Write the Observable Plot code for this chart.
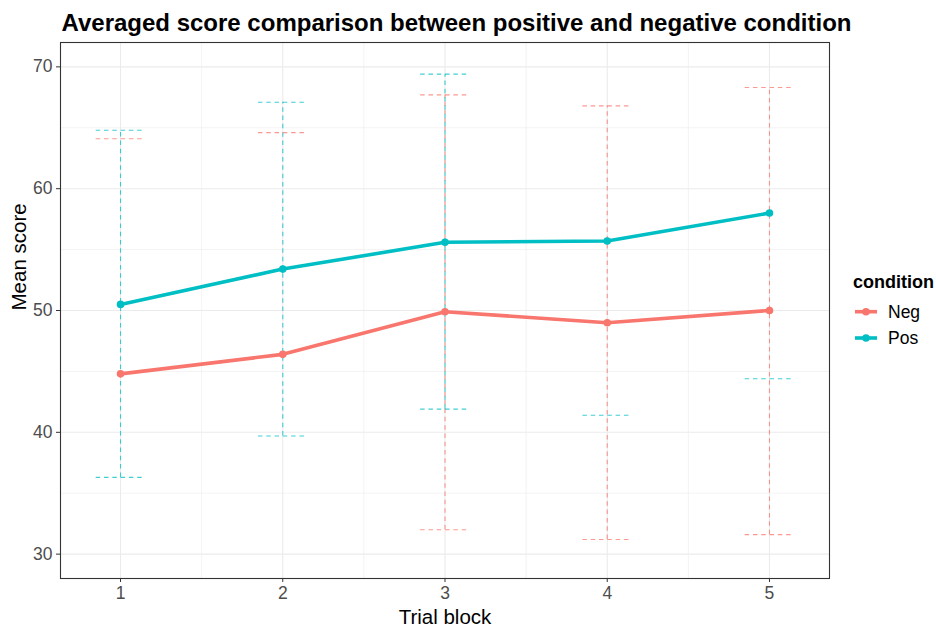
<!DOCTYPE html>
<html>
<head>
<meta charset="utf-8">
<script src="https://cdn.jsdelivr.net/npm/d3@7"></script>
<script src="https://cdn.jsdelivr.net/npm/@observablehq/plot@0.6"></script>
<style>
  html, body { margin: 0; padding: 0; background: #fff; }
  #wrap { position: relative; width: 936px; height: 627px; font-family: "Liberation Sans", Arial, sans-serif; }
  #legend { position: absolute; left: 836px; top: 262px; }
</style>
</head>
<body>
<div id="wrap"><div id="chart"></div><div id="legend"></div></div>
<script>
const titleText = "Averaged score comparison between positive and negative condition";
const xLabel = "Trial block";
const yLabel = "Mean score";
const legendTitle = "condition";

const conditions = ["Neg", "Pos"];
const colors = ["#F8766D", "#00BFC4"];
const blocks = [1, 2, 3, 4, 5];
const yTicks = [30, 40, 50, 60, 70];
const yMinor = [35, 45, 55, 65];
const xMinor = [1.5, 2.5, 3.5, 4.5];

const negMean  = [44.8, 46.4, 49.9, 49.0, 50.0];
const posMean  = [50.5, 53.4, 55.6, 55.7, 58.0];
const negUpper = [64.1, 64.6, 67.7, 66.8, 68.3];
const negLower = [null, null, 32.0, 31.2, 31.6];
const posUpper = [64.8, 67.1, 69.4, null, null];
const posLower = [36.3, 39.7, 41.9, 41.4, 44.4];

const capHalf = 0.15;

const data = [
  ...blocks.map((b, i) => ({block: b, condition: "Neg", mean: negMean[i], upper: negUpper[i], lower: negLower[i]})),
  ...blocks.map((b, i) => ({block: b, condition: "Pos", mean: posMean[i], upper: posUpper[i], lower: posLower[i]}))
];

const dash = "4.5,3.8";
const ebStyle = {stroke: "condition", strokeWidth: 1.1, strokeOpacity: 0.75, strokeDasharray: dash};

const chart = Plot.plot({
  width: 936,
  height: 627,
  marginLeft: 60,
  marginRight: 107,
  marginTop: 42,
  marginBottom: 49,
  style: {fontFamily: '"Liberation Sans", Arial, sans-serif', background: "#fff", overflow: "visible"},
  x: {domain: [0.63, 5.37]},
  y: {domain: [28, 72]},
  color: {domain: conditions, range: colors},
  marks: [
    Plot.gridY(yMinor, {stroke: "#ebebeb", strokeOpacity: 1, strokeWidth: 0.6}),
    Plot.gridX(xMinor, {stroke: "#ebebeb", strokeOpacity: 1, strokeWidth: 0.6}),
    Plot.gridY(yTicks, {stroke: "#ebebeb", strokeOpacity: 1, strokeWidth: 1.1}),
    Plot.gridX(blocks, {stroke: "#ebebeb", strokeOpacity: 1, strokeWidth: 1.1}),
    // error bars: verticals where both ends exist
    Plot.ruleX(data.filter(d => d.upper != null && d.lower != null), {x: "block", y1: "lower", y2: "upper", ...ebStyle}),
    // caps
    Plot.ruleY(data.filter(d => d.upper != null), {y: "upper", x1: d => d.block - capHalf, x2: d => d.block + capHalf, ...ebStyle}),
    Plot.ruleY(data.filter(d => d.lower != null), {y: "lower", x1: d => d.block - capHalf, x2: d => d.block + capHalf, ...ebStyle}),
    Plot.line(data, {x: "block", y: "mean", stroke: "condition", z: "condition", strokeWidth: 3.6}),
    Plot.dot(data, {x: "block", y: "mean", fill: "condition", r: 3.8}),
    Plot.frame({stroke: "#333", strokeWidth: 1.1}),
    Plot.axisX(blocks, {tickSize: 4, tickPadding: 4, fontSize: 17.5, stroke: "#333", fill: "#4d4d4d", label: null, tickFormat: d => String(d)}),
    Plot.axisY(yTicks, {tickSize: 4, tickPadding: 4, fontSize: 17.5, stroke: "#333", fill: "#4d4d4d", label: null, tickFormat: d => String(d)}),
    Plot.text([xLabel], {text: d => d, frameAnchor: "bottom", dy: 45, lineAnchor: "bottom", fontSize: 20.5, fill: "#000"}),
    Plot.text([yLabel], {text: d => d, frameAnchor: "left", dx: -35, rotate: -90, lineAnchor: "bottom", fontSize: 20.5, fill: "#000"}),
    Plot.text([titleText], {text: d => d, frameAnchor: "top-left", dx: 1, dy: -12, lineAnchor: "bottom", textAnchor: "start", fontSize: 24, fontWeight: "bold", fill: "#000"})
  ]
});
document.getElementById("chart").appendChild(chart);

// legend (built from the categories)
const ns = "http://www.w3.org/2000/svg";
const lg = document.createElementNS(ns, "svg");
lg.setAttribute("width", 100);
lg.setAttribute("height", 100);
lg.style.fontFamily = '"Liberation Sans", Arial, sans-serif';
const t = document.createElementNS(ns, "text");
t.setAttribute("x", 17); t.setAttribute("y", 26);
t.setAttribute("font-size", 18); t.setAttribute("font-weight", "bold");
t.textContent = legendTitle;
lg.appendChild(t);
conditions.forEach((c, i) => {
  const cy = 49.7 + i * 26.3;
  const l = document.createElementNS(ns, "line");
  l.setAttribute("x1", 19); l.setAttribute("x2", 41);
  l.setAttribute("y1", cy); l.setAttribute("y2", cy);
  l.setAttribute("stroke", colors[i]); l.setAttribute("stroke-width", 3.6);
  lg.appendChild(l);
  const p = document.createElementNS(ns, "circle");
  p.setAttribute("cx", 30); p.setAttribute("cy", cy); p.setAttribute("r", 3.8);
  p.setAttribute("fill", colors[i]);
  lg.appendChild(p);
  const tx = document.createElementNS(ns, "text");
  tx.setAttribute("x", 52); tx.setAttribute("y", cy + 6);
  tx.setAttribute("font-size", 17.5); tx.setAttribute("fill", "#000");
  tx.textContent = c;
  lg.appendChild(tx);
});
document.getElementById("legend").appendChild(lg);
</script>
</body>
</html>
